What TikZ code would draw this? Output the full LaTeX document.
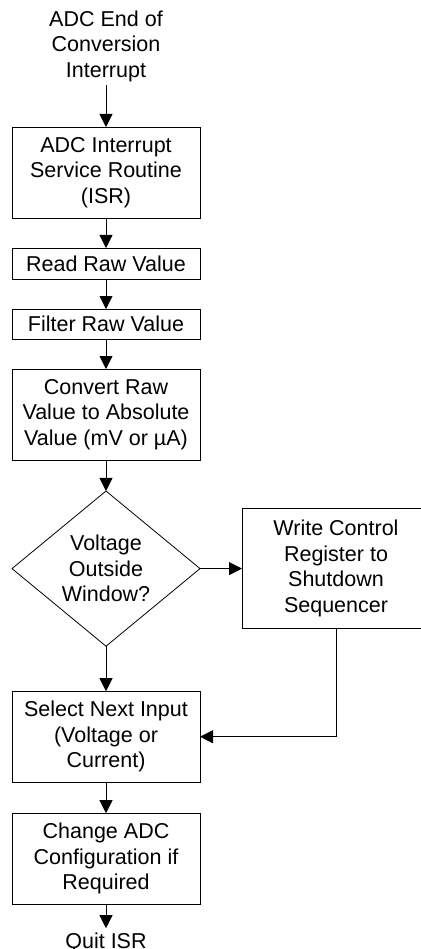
\documentclass[tikz,border=0pt]{standalone}
\usepackage{fontspec}
\setmainfont{Liberation Sans}
\usetikzlibrary{positioning,shapes.geometric,arrows.meta}
\tikzset{block/.style={draw,line width=0.8pt,outer sep=0pt,minimum width=188pt,minimum height=91pt,align=center},
         decision/.style={diamond,draw,line width=0.8pt,outer sep=0pt,minimum width=188pt,minimum height=151pt,inner sep=0pt,align=center},
         line/.style={line width=0.8pt}
}
\tikzstyle{arrow} = [line width=0.8pt,-{Triangle[width=13pt,length=13pt]}]

\begin{document}
\begin{tikzpicture}[font=\fontsize{21.5}{25.5}\selectfont,align=center]
\useasboundingbox (0,0) rectangle (420pt,-949pt);

\node[block] (isr) at (106pt,-172.5pt) {ADC Interrupt\\Service Routine\\(ISR)};
\node[above=42pt of isr] (eoc) {ADC End of\\Conversion\\Interrupt};
\node[block,minimum height=31pt,below=30pt of isr] (read) {Read Raw Value};
\node[block,minimum height=30pt,below=30pt of read] (filt) {Filter Raw Value};
\node[block,below=30pt of filt] (conv) {Convert Raw\\Value to Absolute\\Value (mV or µA)};
\node[decision,below=31pt of conv] (dec) {Voltage\\Outside\\Window?};
\node[block,minimum height=120pt,right=42pt of dec] (wr) {Write Control\\Register to\\Shutdown\\Sequencer};
\node[block,below=45pt of dec] (sel) {Select Next Input\\(Voltage or\\Current)};
\node[block,below=31pt of sel] (cfg) {Change ADC\\Configuration if\\Required};
\node[below=26pt of cfg,inner sep=2pt] (quit) {Quit ISR};
\draw[arrow] (eoc)--(isr);
\draw[arrow] (isr)--(read);
\draw[arrow] (read)--(filt);
\draw[arrow] (filt)--(conv);
\draw[arrow] (conv)--(dec);
\draw[arrow] (dec)--(wr);
\draw[arrow] (dec)--(sel);
\draw[arrow] (wr.south)|-(sel.east);
\draw[arrow] (sel)--(cfg);
\draw[arrow,shorten >=2pt] (cfg)--(quit);

\end{tikzpicture}
\end{document}
